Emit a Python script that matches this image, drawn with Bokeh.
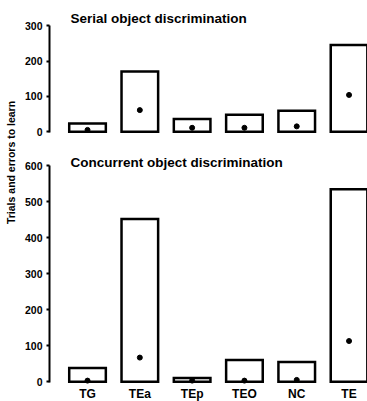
import math
from bokeh.plotting import figure
from bokeh.layouts import row, column
from bokeh.models import ColumnDataSource, FixedTicker, Range1d, Label
from bokeh.core.properties import value
from bokeh.embed import file_html
from bokeh.resources import INLINE

categories = ["TG", "TEa", "TEp", "TEO", "NC", "TE"]
serial_trials = [23, 170, 36, 48, 59, 245]
serial_errors = [5, 61, 11, 11, 15, 104]
concurrent_trials = [38, 452, 10, 60, 55, 535]
concurrent_errors = [3, 67, 3, 3, 5, 113]
serial_ticks = [0, 100, 200, 300]
concurrent_ticks = [0, 100, 200, 300, 400, 500, 600]
serial_title = "Serial object discrimination"
concurrent_title = "Concurrent object discrimination"
y_label = "Trials and errors to learn"

FONT = "Liberation Sans"
xs = list(range(len(categories)))
XR = (-0.727, 5.353)


def panel(height, yr, trials, errors, ticks, title, title_y, with_cats):
    p = figure(width=347, height=height, output_backend="svg", toolbar_location=None,
               x_axis_location=None, x_range=Range1d(*XR), y_range=Range1d(*yr),
               min_border_left=29, min_border_right=0, min_border_top=4, min_border_bottom=0)
    p.grid.visible = False
    p.outline_line_color = None
    p.background_fill_color = "white"
    p.border_fill_color = "white"
    src = ColumnDataSource(dict(x=xs, top=trials, err=errors, cat=categories))
    p.vbar(x="x", top="top", bottom=0, width=0.7, source=src, fill_color=None,
           line_color="black", line_width=2.5, line_join="miter")
    p.scatter(x="x", y="err", source=src, size=5, color="black")
    ax = p.yaxis[0]
    ax.ticker = FixedTicker(ticks=ticks)
    ax.bounds = (-3, ticks[-1])
    ax.axis_line_width = 2
    ax.major_tick_line_width = 2
    ax.major_tick_out = 3
    ax.major_tick_in = 0
    ax.minor_tick_out = 0
    ax.minor_tick_in = 0
    ax.major_label_standoff = 4
    ax.major_label_text_font = FONT
    ax.major_label_text_font_style = "bold"
    ax.major_label_text_font_size = "10.5px"
    ax.major_label_text_color = "black"
    p.add_layout(Label(x=-0.325, y=title_y, text=title, text_font=FONT,
                       text_font_style="bold", text_font_size="13.5px", text_color="black",
                       text_baseline="middle", text_align="left"))
    if with_cats:
        p.text(x="x", y=-33, text="cat", source=src, text_font=value(FONT),
               text_font_style="bold", text_font_size="12px",
               text_align="center", text_baseline="middle", text_color="black")
    return p


top = panel(140, (-25, 360), serial_trials, serial_errors, serial_ticks,
            serial_title, 320, False)
bottom = panel(261, (-55, 659), concurrent_trials, concurrent_errors, concurrent_ticks,
               concurrent_title, 609, True)

left = figure(width=20, height=401, output_backend="svg", toolbar_location=None,
              x_axis_location=None, y_axis_location=None,
              x_range=Range1d(0, 20), y_range=Range1d(0, 401),
              min_border=0)
left.grid.visible = False
left.outline_line_color = None
left.add_layout(Label(x=10.5, y=239, text=y_label, angle=math.pi / 2,
                      text_font=FONT, text_font_style="bold", text_font_size="10.5px",
                      text_color="black", text_align="center", text_baseline="middle"))

layout = row(left, column(top, bottom))
open("out.html", "w").write(file_html(layout, INLINE))
